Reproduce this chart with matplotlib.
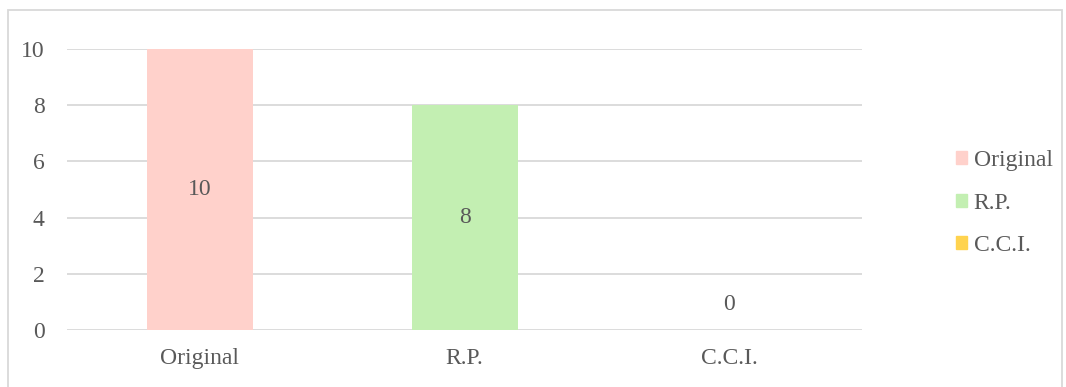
import matplotlib
matplotlib.use("Agg")
import matplotlib.pyplot as plt
from matplotlib.patches import Rectangle

categories = ["Original", "R.P.", "C.C.I."]
values = [10, 8, 0]
colors = ["#FFD1CB", "#C3EFB2", "#FFD34F"]
yticks = [0, 2, 4, 6, 8, 10]

plt.rcParams['font.family'] = ['Liberation Serif', 'DejaVu Serif']
txt = "#595959"
fs = 17
W, H = 1066, 387
fig = plt.figure(figsize=(W/100, H/100), dpi=100)
ax = fig.add_axes([67/W, 1-330/H, (862-67)/W, (330-49)/H])

x = list(range(len(categories)))
bars = ax.bar(x, values, width=0.4, color=colors, zorder=2)
ax.set_xlim(-0.5, 2.5)
ax.set_ylim(0, 10)
ax.set_yticks(yticks)
ax.set_xticks(x)
ax.set_xticklabels(categories)
ax.tick_params(axis='both', length=0, labelsize=fs, colors=txt)
ax.tick_params(axis='y', pad=16)
ax.tick_params(axis='x', pad=13)
ax.grid(axis='y', color="#D9D9D9", linewidth=1.3, zorder=0)
for s in ax.spines.values():
    s.set_visible(False)

for xi, v in zip(x, values):
    if v > 0:
        ax.text(xi, v/2, str(v), ha='center', va='center', fontsize=fs, color=txt, zorder=3)
    else:
        ax.annotate(str(v), (xi, 0), xytext=(0, 11), textcoords='offset points',
                    ha='center', va='bottom', fontsize=fs, color=txt)

handles = [Rectangle((0, 0), 1, 1, color=c) for c in colors]
fig.legend(handles, categories, loc='center left', bbox_to_anchor=(956/W, 1-203/H),
           frameon=False, fontsize=fs, labelcolor=txt, handlelength=0.48, handleheight=0.48,
           handletextpad=0.27, labelspacing=0.92, borderpad=0, borderaxespad=0)

fig.patches.append(Rectangle((8/W, -0.05), (1062-8)/W, 1.05-10/H, transform=fig.transFigure,
                             fill=False, edgecolor="#D9D9D9", linewidth=1.3))
fig.savefig("out.png", dpi=100)
